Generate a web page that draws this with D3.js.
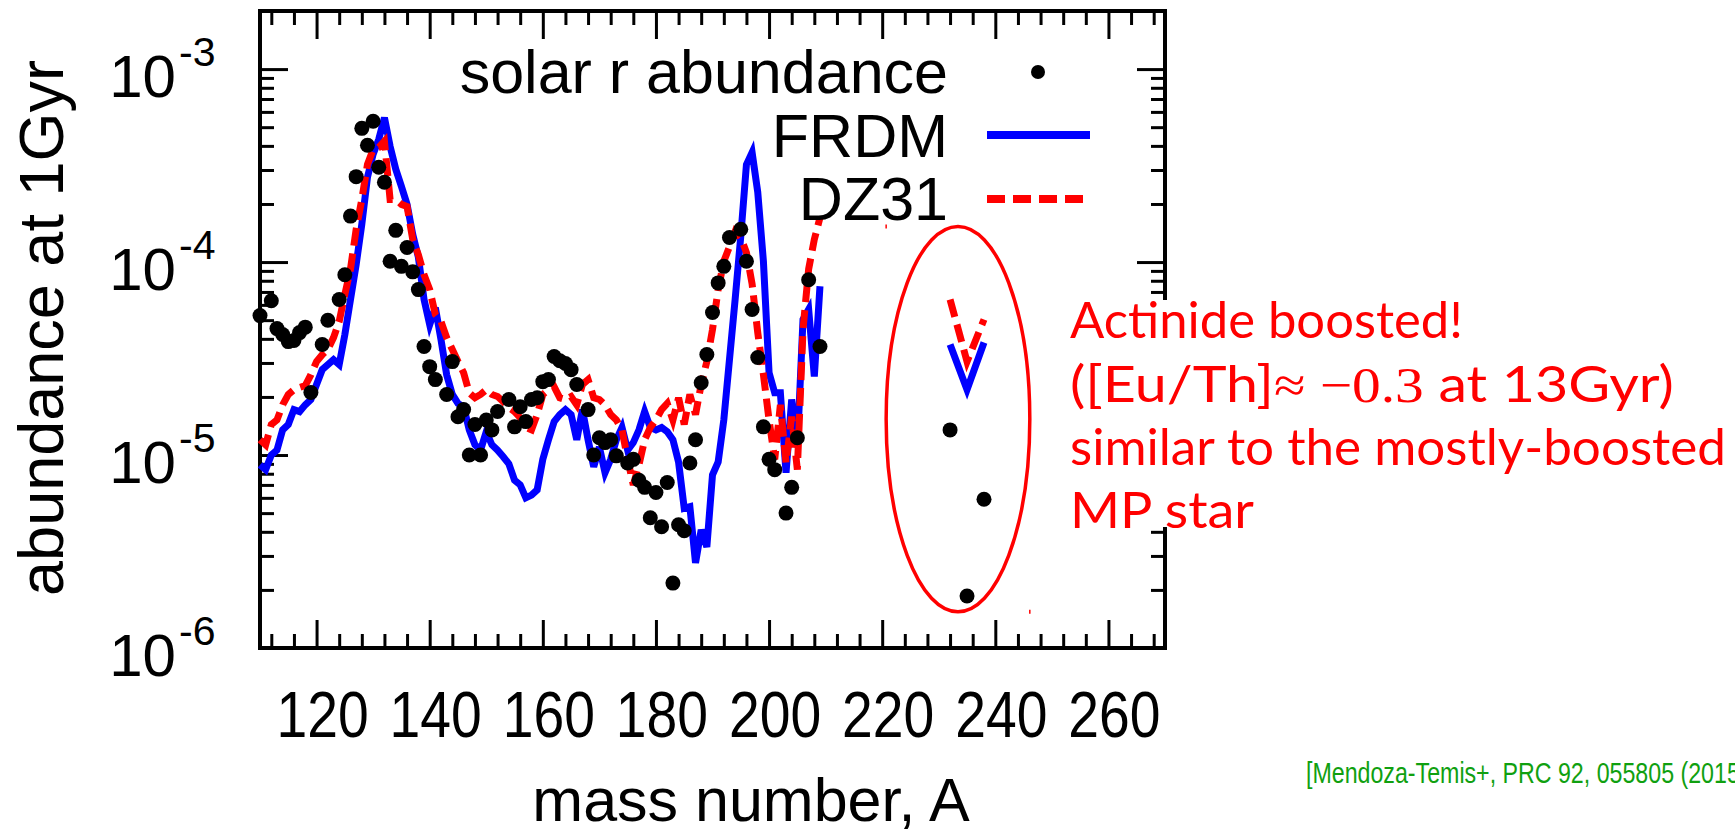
<!DOCTYPE html>
<html>
<head>
<meta charset="utf-8">
<script src="https://cdn.jsdelivr.net/npm/d3@7"></script>
<style>
  html, body { margin: 0; padding: 0; background: #fff; }
  svg { display: block; }
</style>
</head>
<body>
<svg id="chart" width="1735" height="836"></svg>
<script>
// r-process abundance pattern at 1 Gyr: solar r residuals vs. FRDM and DZ31 mass models

const massNumber = [110,111,112,113,114,115,116,117,118,119,120,121,122,123,124,125,126,127,128,129,
  130,131,132,133,134,135,136,137,138,139,140,141,142,143,144,145,146,147,148,149,
  150,151,152,153,154,155,156,157,158,159,160,161,162,163,164,165,166,167,168,169,
  170,171,172,173,174,175,176,177,178,179,180,181,182,183,184,185,186,187,188,189,
  190,191,192,193,194,195,196,197,198,199,200,201,202,203,204,205,206,207,208,209];

const frdm = [8.9e-6,8.4e-6,1.0e-5,1.06e-5,1.35e-5,1.44e-5,1.72e-5,1.68e-5,1.82e-5,1.94e-5,
  2.32e-5,2.77e-5,2.94e-5,3.12e-5,2.94e-5,4.21e-5,6.4e-5,9.7e-5,1.57e-4,2.75e-4,
  3.62e-4,4.33e-4,5.6e-4,3.98e-4,3.03e-4,2.47e-4,1.99e-4,1.39e-4,1.06e-4,6.4e-5,
  4.74e-5,5.81e-5,3.96e-5,2.61e-5,2.06e-5,1.85e-5,1.78e-5,1.35e-5,1.13e-5,1.06e-5,
  1.32e-5,1.13e-5,1.06e-5,9.8e-6,9.0e-6,7.4e-6,7.0e-6,6.0e-6,6.2e-6,6.6e-6,
  9.5e-6,1.2e-5,1.49e-5,1.62e-5,1.72e-5,1.62e-5,1.2e-5,1.72e-5,1.2e-5,8.7e-6,
  1.1e-5,8.1e-6,9.5e-6,1.2e-5,1.39e-5,1.06e-5,1.16e-5,1.35e-5,1.68e-5,1.39e-5,
  1.35e-5,1.39e-5,1.32e-5,1.2e-5,9.2e-6,5.3e-6,5.4e-6,2.76e-6,4.1e-6,3.34e-6,
  7.9e-6,9.2e-6,1.52e-5,3.12e-5,6.4e-5,1.36e-4,3.2e-4,3.7e-4,2.3e-4,1.01e-4,
  2.67e-5,2.1e-5,2.1e-5,8.1e-6,1.94e-5,1.1e-5,5.04e-5,5.68e-5,2.55e-5,7.5e-5];

const dz31 = [1.2e-5,1.13e-5,1.44e-5,1.52e-5,1.82e-5,2.06e-5,2.18e-5,2.24e-5,2.29e-5,2.61e-5,
  3.05e-5,3.31e-5,3.52e-5,4.06e-5,4.92e-5,6.8e-5,9.2e-5,1.48e-4,2.11e-4,3.21e-4,
  3.84e-4,3.93e-4,4.23e-4,2.11e-4,2.11e-4,1.99e-4,1.94e-4,1.31e-4,1.09e-4,8.6e-5,
  7.2e-5,5.35e-5,4.92e-5,4.06e-5,3.52e-5,3.05e-5,2.67e-5,2.1e-5,1.98e-5,2.06e-5,
  2.18e-5,2.06e-5,2.01e-5,1.89e-5,1.76e-5,1.68e-5,1.56e-5,1.39e-5,1.35e-5,1.62e-5,
  2.06e-5,2.18e-5,2.26e-5,1.98e-5,1.94e-5,2.01e-5,1.82e-5,2.32e-5,2.46e-5,1.98e-5,
  1.94e-5,1.82e-5,1.62e-5,1.52e-5,1.35e-5,9.5e-6,7.0e-6,8.9e-6,1.2e-5,1.39e-5,
  1.52e-5,1.72e-5,1.85e-5,1.52e-5,1.98e-5,1.44e-5,2.06e-5,1.62e-5,2.32e-5,3.05e-5,
  4.47e-5,7.2e-5,1.01e-4,1.2e-4,1.44e-4,1.34e-4,1.12e-4,7.7e-5,4.31e-5,2.61e-5,
  1.52e-5,9.5e-6,1.82e-5,9.1e-6,1.58e-5,8.4e-6,4.47e-5,9.2e-5,1.31e-4,1.7e-4];

const solarMass = [110,112,113,114,115,116,117,118,119,121,122,124,125,126,127,128,129,130,131,132,
  133,134,135,136,137,138,139,140,141,143,144,145,146,147,148,149,150,151,152,154,
  155,156,157,158,159,160,161,162,163,164,165,166,168,169,170,171,172,173,175,176,
  177,178,179,180,181,182,183,184,185,186,187,188,189,190,191,192,193,195,196,197,
  198,199,200,201,203,204,205,207,209];

const solarAbundance = [5.28e-5,6.3e-5,4.52e-5,4.21e-5,3.87e-5,3.92e-5,4.31e-5,4.6e-5,2.11e-5,3.74e-5,4.99e-5,6.4e-5,8.6e-5,1.73e-4,2.77e-4,4.93e-4,4.03e-4,5.37e-4,3.1e-4,2.59e-4,
  1.01e-4,1.46e-4,9.5e-5,1.19e-4,8.9e-5,7.2e-5,3.65e-5,2.87e-5,2.46e-5,2.06e-5,3.05e-5,1.58e-5,1.72e-5,1.0e-5,1.44e-5,1.0e-5,1.52e-5,1.35e-5,1.68e-5,1.94e-5,
  1.4e-5,1.78e-5,1.49e-5,1.94e-5,1.98e-5,2.4e-5,2.46e-5,3.24e-5,3.08e-5,2.98e-5,2.77e-5,2.32e-5,1.72e-5,1.0e-5,1.23e-5,1.16e-5,1.2e-5,9.9e-6,9.1e-6,9.5e-6,
  7.4e-6,6.8e-6,4.73e-6,6.4e-6,4.25e-6,7.2e-6,2.17e-6,4.35e-6,4.05e-6,9.1e-6,1.2e-5,2.37e-5,3.32e-5,5.48e-5,7.8e-5,9.5e-5,1.34e-4,1.48e-4,1.01e-4,5.68e-5,
  3.2e-5,1.4e-5,9.5e-6,8.4e-6,5.0e-6,6.8e-6,1.23e-5,8.1e-5,3.65e-5];

// Th-232, U-235, U-238
const actinideMass = [232, 235, 238];
const solarActinide = [1.35e-5, 1.86e-6, 5.9e-6];
const frdmActinide = [3.74e-5, 2.18e-5, 3.83e-5];
const dz31Actinide = [6.4e-5, 3.05e-5, 5.04e-5];

// ring around the actinides (mass number and abundance bounds)
const ringMass = [220.7, 246.1];
const ringAbundance = [1.54e-6, 1.53e-4];

const xTickValues = [120, 140, 160, 180, 200, 220, 240, 260];
const yTickValues = [1e-6, 1e-5, 1e-4, 1e-3];
const yTickExponents = ["-6", "-5", "-4", "-3"];
const legendLabels = ["solar r abundance", "FRDM", "DZ31"];

const W = 1735, H = 836;
const plot = { left: 260, right: 1165, top: 11, bottom: 648 };
const FONT = "'Liberation Sans', Arial, Helvetica, sans-serif";
const BLUE = "#0000ff", RED = "#ff0000";

const svg = d3.select("#chart");
svg.append("rect").attr("width", W).attr("height", H).attr("fill", "#fff");

const x = d3.scaleLinear().domain([110, 270]).range([plot.left, plot.right]);
const y = d3.scaleLog().domain([1e-6, 2e-3]).range([plot.bottom, plot.top]);

// ---- frame ticks (all pointing inward) ----
const xMinor = d3.range(112, 270, 4).filter(v => v % 20 !== 0);
const yMinor = [];
[1e-6, 1e-5, 1e-4].forEach(d => { for (let k = 2; k <= 9; k++) yMinor.push(k * d); });

function frameAxis(axis, transform) {
  const g = svg.append("g").attr("transform", transform).call(axis);
  g.select(".domain").remove();
  g.selectAll(".tick line").attr("stroke", "#000").attr("stroke-width", 3);
  g.selectAll(".tick text").remove();
  return g;
}
const MAJ = 28, MIN = 14;
frameAxis(d3.axisBottom(x).tickValues(xTickValues).tickSize(-MAJ).tickFormat(""), `translate(0,${plot.bottom})`);
frameAxis(d3.axisBottom(x).tickValues(xMinor).tickSize(-MIN).tickFormat(""), `translate(0,${plot.bottom})`);
frameAxis(d3.axisTop(x).tickValues(xTickValues).tickSize(-MAJ).tickFormat(""), `translate(0,${plot.top})`);
frameAxis(d3.axisTop(x).tickValues(xMinor).tickSize(-MIN).tickFormat(""), `translate(0,${plot.top})`);
frameAxis(d3.axisLeft(y).tickValues(yTickValues).tickSize(-MAJ).tickFormat(""), `translate(${plot.left},0)`);
frameAxis(d3.axisLeft(y).tickValues(yMinor).tickSize(-MIN).tickFormat(""), `translate(${plot.left},0)`);
frameAxis(d3.axisRight(y).tickValues(yTickValues).tickSize(-MAJ).tickFormat(""), `translate(${plot.right},0)`);
frameAxis(d3.axisRight(y).tickValues(yMinor).tickSize(-MIN).tickFormat(""), `translate(${plot.right},0)`);

svg.append("rect")
  .attr("x", plot.left).attr("y", plot.top)
  .attr("width", plot.right - plot.left).attr("height", plot.bottom - plot.top)
  .attr("fill", "none").attr("stroke", "#000").attr("stroke-width", 4);

// ---- tick labels ----
svg.append("g").selectAll("text").data(xTickValues).join("text")
  .attr("transform", d => `translate(${x(d) + 6},737) scale(0.85,1)`)
  .attr("text-anchor", "middle")
  .attr("font-family", FONT).attr("font-size", 65).attr("fill", "#000")
  .text(d => d);

const yLab = svg.append("g");
yLab.selectAll("text.base").data(yTickValues).join("text")
  .attr("class", "base")
  .attr("x", 176).attr("y", d => y(d) + 28)
  .attr("text-anchor", "end")
  .attr("font-family", FONT).attr("font-size", 60).attr("fill", "#000")
  .text("10");
yLab.selectAll("text.exp").data(yTickValues).join("text")
  .attr("class", "exp")
  .attr("x", 179).attr("y", d => y(d) - 3)
  .attr("font-family", FONT).attr("font-size", 41).attr("fill", "#000")
  .text((d, i) => yTickExponents[i]);

// ---- axis titles ----
svg.append("text")
  .attr("x", 751).attr("y", 821)
  .attr("text-anchor", "middle")
  .attr("font-family", FONT).attr("font-size", 61).attr("fill", "#000")
  .text("mass number, A");

svg.append("text")
  .attr("transform", "translate(63,328) rotate(-90)")
  .attr("text-anchor", "middle")
  .attr("font-family", FONT).attr("font-size", 63).attr("fill", "#000")
  .text("abundance at 1Gyr");

// ---- model curves ----
const line = d3.line().x(d => x(d[0])).y(d => y(d[1]));

function curve(mass, vals, color, dash) {
  const p = svg.append("path")
    .datum(d3.zip(mass, vals))
    .attr("d", line)
    .attr("fill", "none")
    .attr("stroke", color)
    .attr("stroke-width", 7)
    .attr("stroke-linejoin", "miter")
    .attr("stroke-miterlimit", 4);
  if (dash) p.attr("stroke-dasharray", dash);
  return p;
}
curve(massNumber, frdm, BLUE, null);
curve(massNumber, dz31, RED, "18,8");
curve(actinideMass, frdmActinide, BLUE, null);
curve(actinideMass, dz31Actinide, RED, "18,8");

// ---- solar r-process points ----
const dots = svg.append("g").attr("fill", "#000");
dots.selectAll("circle.s").data(d3.zip(solarMass, solarAbundance)).join("circle")
  .attr("class", "s")
  .attr("cx", d => x(d[0])).attr("cy", d => y(d[1])).attr("r", 7.5);
dots.selectAll("circle.a").data(d3.zip(actinideMass, solarActinide)).join("circle")
  .attr("class", "a")
  .attr("cx", d => x(d[0])).attr("cy", d => y(d[1])).attr("r", 7.5);

// ---- legend ----
const lg = svg.append("g").attr("font-family", FONT).attr("font-size", 61).attr("fill", "#000");
const legendBase = [93, 157, 220];
lg.selectAll("text").data(legendLabels).join("text")
  .attr("x", 948).attr("y", (d, i) => legendBase[i])
  .attr("text-anchor", "end")
  .text(d => d);
lg.append("circle").attr("cx", 1038).attr("cy", 72).attr("r", 7).attr("fill", "#000");
lg.append("line").attr("x1", 987).attr("x2", 1090).attr("y1", 135).attr("y2", 135)
  .attr("stroke", BLUE).attr("stroke-width", 8);
lg.append("line").attr("x1", 987).attr("x2", 1090).attr("y1", 199).attr("y2", 199)
  .attr("stroke", RED).attr("stroke-width", 8).attr("stroke-dasharray", "18,8");

// ---- actinide ring ----
const rx0 = x(ringMass[0]), rx1 = x(ringMass[1]);
const ry0 = y(ringAbundance[1]), ry1 = y(ringAbundance[0]);
svg.append("ellipse")
  .attr("cx", (rx0 + rx1) / 2).attr("cy", (ry0 + ry1) / 2)
  .attr("rx", (rx1 - rx0) / 2).attr("ry", (ry1 - ry0) / 2)
  .attr("fill", "none").attr("stroke", RED).attr("stroke-width", 3.5);
svg.append("line").attr("x1", rx0).attr("x2", rx0).attr("y1", ry0 - 2).attr("y2", ry0 + 2)
  .attr("stroke", RED).attr("stroke-width", 1.5);
svg.append("line").attr("x1", rx1).attr("x2", rx1).attr("y1", ry1 - 2).attr("y2", ry1 + 2)
  .attr("stroke", RED).attr("stroke-width", 1.5);

// ---- note box ----
svg.append("rect").attr("x", 1062).attr("y", 300).attr("width", W - 1062).attr("height", 227).attr("fill", "#fff");

const NOTE_FONT = "Lato, 'Open Sans', 'DejaVu Sans', sans-serif";
const MATH_FONT = "'Liberation Serif', 'DejaVu Serif', serif";
const note = svg.append("g").attr("fill", RED).attr("font-family", NOTE_FONT).attr("font-size", 50);

function fitWidth(sel, x0, target) {
  const w = sel.node().getComputedTextLength();
  const s = target / w;
  sel.attr("transform", `translate(${x0},0) scale(${s},1) translate(${-x0},0)`);
}

const n1 = note.append("text").attr("x", 1070).attr("y", 338).text("Actinide boosted!");
fitWidth(n1, 1070, 393);

const n2 = note.append("text").attr("x", 1070).attr("y", 402);
n2.append("tspan").text("([Eu/Th]");
n2.append("tspan").attr("font-family", MATH_FONT).text("\u2248 \u22120.3");
n2.append("tspan").text(" at 13Gyr)");
fitWidth(n2, 1070, 604);

const n3 = note.append("text").attr("x", 1070).attr("y", 465).text("similar to the mostly-boosted");
fitWidth(n3, 1070, 656);

const n4 = note.append("text").attr("x", 1070).attr("y", 528).text("MP star");
fitWidth(n4, 1070, 184);

// ---- reference ----
svg.append("text")
  .attr("transform", "translate(1306,783) scale(0.8,1)")
  .attr("font-family", FONT).attr("font-size", 29).attr("fill", "#10a010")
  .text("[Mendoza-Temis+, PRC 92, 055805 (2015)]");
</script>
</body>
</html>
